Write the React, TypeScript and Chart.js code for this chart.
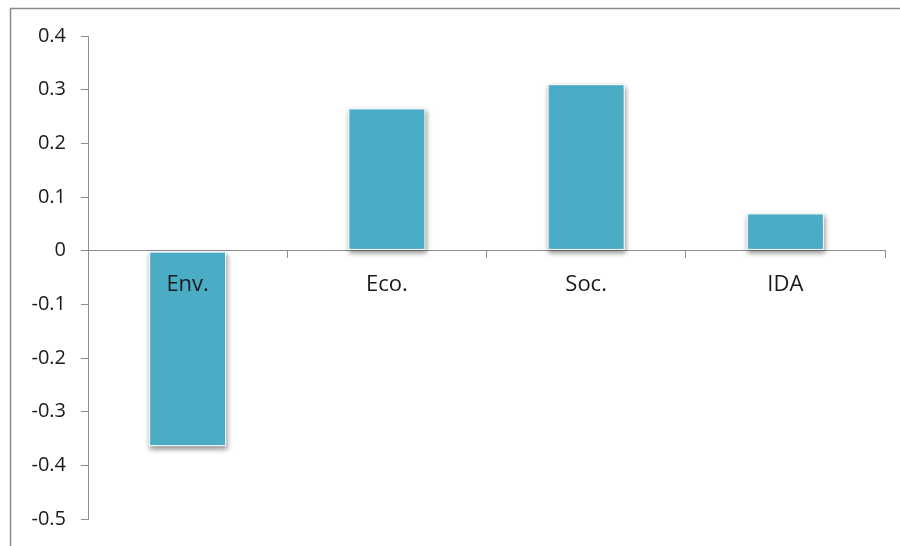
import React, { useEffect, useRef } from "react";
import { Chart, registerables } from "chart.js";

Chart.register(...registerables);

const categories: string[] = ["Env.", "Eco.", "Soc.", "IDA"];
const values: number[] = [-0.365, 0.266, 0.311, 0.07];
const yMin = -0.5;
const yMax = 0.4;
const yStep = 0.1;

const FONT = "'Open Sans', 'Liberation Sans', sans-serif";
const AXIS_GREY = "#8e8e8e";
const TEXT = "#1a1a1a";
const BAR_FILL = "#4bacc6";

// White background plus the thin grey frame around the chart
const framePlugin = {
  id: "frame",
  beforeDraw(chart: Chart) {
    const ctx = chart.ctx;
    ctx.save();
    ctx.fillStyle = "#ffffff";
    ctx.fillRect(0, 0, chart.width, chart.height);
    ctx.strokeStyle = "#8a8a8a";
    ctx.lineWidth = 1.5;
    ctx.strokeRect(10.5, 8.5, chart.width + 20, chart.height + 20);
    ctx.restore();
  },
};

// Soft drop shadow painted behind every bar, taken from the bar elements
const barShadowPlugin = {
  id: "barShadow",
  beforeDatasetsDraw(chart: Chart) {
    const ctx = chart.ctx;
    const meta = chart.getDatasetMeta(0);
    ctx.save();
    ctx.filter = "blur(2.5px)";
    ctx.fillStyle = "rgba(0,0,0,0.42)";
    meta.data.forEach((el: any) => {
      const { x, y, base, width } = el.getProps(["x", "y", "base", "width"], true);
      const top = Math.min(y, base);
      const h = Math.abs(base - y);
      ctx.fillRect(x - width / 2 + 1, top + 3, width, h);
    });
    ctx.restore();
  },
};

export default function App() {
  const canvasRef = useRef<HTMLCanvasElement | null>(null);

  useEffect(() => {
    document.body.style.margin = "0";
    const canvas = canvasRef.current;
    if (!canvas) return;

    const chart = new Chart(canvas, {
      type: "bar",
      data: {
        labels: categories,
        datasets: [
          {
            data: values,
            backgroundColor: BAR_FILL,
            borderColor: "rgba(235,247,250,0.95)",
            borderWidth: 1.5,
            borderSkipped: false,
            barPercentage: 0.39,
            categoryPercentage: 1,
          },
        ],
      },
      options: {
        responsive: false,
        animation: false,
        layout: { padding: { left: 0, right: 15, top: 36, bottom: 24 } },
        plugins: {
          legend: { display: false },
          tooltip: { enabled: false },
        },
        scales: {
          x: {
            position: { y: 0 } as any,
            grid: {
              drawOnChartArea: false,
              drawTicks: true,
              tickLength: 7,
              color: AXIS_GREY,
              offset: true,
            },
            border: { display: true, color: AXIS_GREY, width: 1 },
            ticks: {
              z: 1,
              color: TEXT,
              padding: 14,
              font: { family: FONT, size: 22 },
              maxRotation: 0,
            },
          },
          y: {
            min: yMin,
            max: yMax,
            grid: {
              drawOnChartArea: false,
              drawTicks: true,
              tickLength: 7,
              color: AXIS_GREY,
            },
            border: { display: true, color: AXIS_GREY, width: 1 },
            ticks: {
              stepSize: yStep,
              color: TEXT,
              padding: 15,
              font: { family: FONT, size: 20 },
              callback: (v: any) => {
                const n = Math.round(Number(v) * 10) / 10;
                return n === 0 ? "0" : n.toFixed(1);
              },
            },
            afterFit: (scale: any) => {
              scale.width = 88;
            },
          },
        },
      },
      plugins: [framePlugin, barShadowPlugin],
    });

    return () => chart.destroy();
  }, []);

  return (
    <div style={{ width: 900, height: 546, position: "relative" }}>
      <canvas ref={canvasRef} width={900} height={546} />
    </div>
  );
}
